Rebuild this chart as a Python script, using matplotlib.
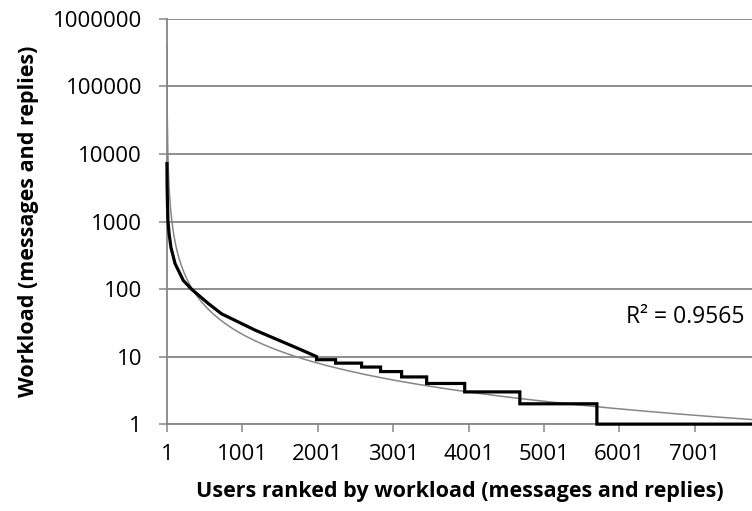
import matplotlib.pyplot as plt
import numpy as np

# workload per user, ranked
rango_curva = [1, 3, 8, 15, 30, 55, 108, 218, 325, 550, 725, 1175, 1706, 1985]
carga_curva = [7200, 3500, 1800, 1000, 650, 410, 239, 134, 100, 61, 43, 24.5, 13.7, 10]

# tail of the ranking, where the workload is a small integer
inicio_escalon = [1985, 2237, 2582, 2834, 3113, 3445, 3950, 4681, 5703]
valor_escalon = [9, 8, 7, 6, 5, 4, 3, 2, 1]
ultimo_usuario = 7760

# power trendline  y = a * x^-b
tend_a = 3.9e5
tend_b = 1.42
r2 = 0.9565

xticks = [1, 1001, 2001, 3001, 4001, 5001, 6001, 7001]
yticks = [1, 10, 100, 1000, 10000, 100000, 1000000]

plt.rcParams['font.family'] = ['Open Sans', 'DejaVu Sans']
gris = "#868686"

fig = plt.figure(figsize=(7.52, 5.11), dpi=100)
ax = fig.add_axes([0.222, 0.170, 0.778, 0.793])

#escalones: cada valor se mantiene hasta el siguiente inicio
fin_escalon = inicio_escalon[1:] + [ultimo_usuario]
xs = list(rango_curva)
ys = list(carga_curva)
for x0, x1, v in zip(inicio_escalon, fin_escalon, valor_escalon):
    xs += [x0, x1]
    ys += [v, v]

#linea de tendencia
xt = np.linspace(1, ultimo_usuario, 2000)
ax.plot(xt, tend_a * xt ** (-tend_b), color=gris, lw=1.1, zorder=3)
ax.plot(xs, ys, color="black", lw=2.3, solid_joinstyle="miter", zorder=4, clip_on=False)

ax.set_yscale("log")
ax.set_ylim(1, 1000000)
ax.set_xlim(1, ultimo_usuario)
ax.set_yticks(yticks)
ax.set_yticklabels([str(v) for v in yticks])
ax.minorticks_off()
ax.set_xticks(xticks)
ax.set_xticklabels([str(v) for v in xticks])

ax.grid(axis="y", color=gris, lw=1.3)
ax.set_axisbelow(True)
for s in ["top", "right"]:
    ax.spines[s].set_visible(False)
for s in ["left", "bottom"]:
    ax.spines[s].set_color(gris)
    ax.spines[s].set_linewidth(1.3)
ax.tick_params(axis="both", colors=gris, length=6, width=1.1, labelsize=16, labelcolor="black")
ax.tick_params(axis="y", pad=12)
ax.tick_params(axis="x", pad=8)

ax.text(0.988, 0.264, "R\u00b2 = " + str(r2), transform=ax.transAxes,
        ha="right", va="center", fontsize=16.5)

ax.set_xlabel("Users ranked by workload (messages and replies)", fontsize=15.5,
              fontweight="bold", labelpad=12)
ax.set_ylabel("Workload (messages and replies)", fontsize=15.5, fontweight="bold", labelpad=10)

fig.savefig("out.png", dpi=100)
